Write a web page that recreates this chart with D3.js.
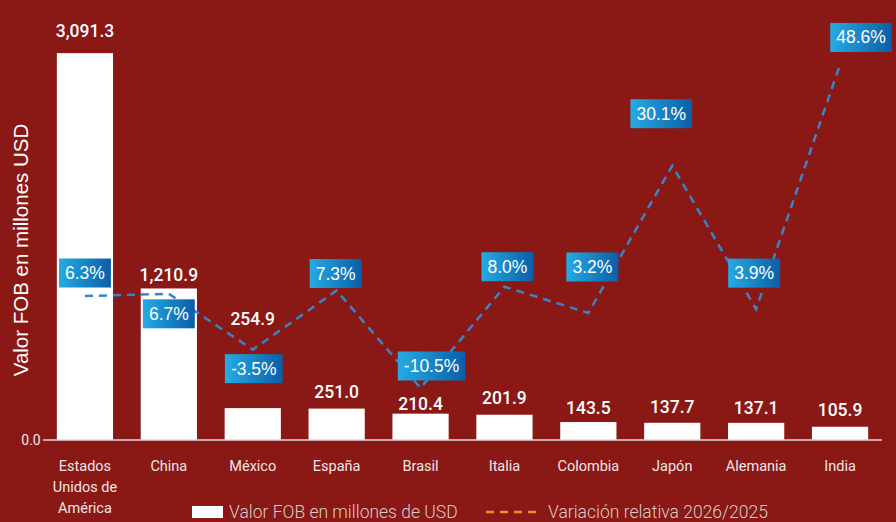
<!DOCTYPE html>
<html>
<head>
<meta charset="utf-8">
<script src="https://cdn.jsdelivr.net/npm/d3@7"></script>
<style>
  body { margin: 0; background: #8a1814; }
  svg { display: block; }
</style>
</head>
<body>
<svg id="chart" width="896" height="522"></svg>
<script>
// datos
var paises = ["Estados Unidos de América", "China", "México", "España", "Brasil",
              "Italia", "Colombia", "Japón", "Alemania", "India"]
var valorFOB = [3091.3, 1210.9, 254.9, 251.0, 210.4, 201.9, 143.5, 137.7, 137.1, 105.9]
var variacion = [6.3, 6.7, -3.5, 7.3, -10.5, 8.0, 3.2, 30.1, 3.9, 48.6]
var etiquetasY = ["0.0"]

// posiciones manuales de las etiquetas (como en el original)
var dyValor = [-22, -13, -89, -17, -10, -17, -14, -16, -15, -17]
var offsetVar = [[0, -23], [0, 20], [1, 19], [-1, -17], [11, -22], [3, -20],
                 [4, -46], [-11, -52], [-2, -36], [21, -27]]

var fmt = d3.formatLocale({decimal: ".", thousands: ",", grouping: [3],
                           currency: ["$", ""], minus: "-"})

var svg = d3.select("#chart")
var W = 896, H = 522
var left = 43, right = 882, base = 440, topY = 2

svg.append("rect").attr("width", W).attr("height", H).attr("fill", "#8a1814")

var defs = svg.append("defs")
var grad = defs.append("linearGradient").attr("id", "azul")
grad.append("stop").attr("offset", "0%").attr("stop-color", "#25abe3")
grad.append("stop").attr("offset", "100%").attr("stop-color", "#0b5ea9")

var x = d3.scaleBand()
          .domain(paises)
          .range([left, right])
          .paddingInner(0.33)
          .paddingOuter(0.165)

var y = d3.scaleLinear().domain([0, 3500]).range([base, topY])
var y2 = d3.scaleLinear().domain([-20, 60]).range([base, topY])

// barras
svg.selectAll("rect.bar")
   .data(valorFOB)
 .enter().append("rect")
   .attr("class", "bar")
   .attr("x", function(d, i) { return x(paises[i]) })
   .attr("y", function(d) { return y(d) })
   .attr("width", x.bandwidth())
   .attr("height", function(d) { return base - y(d) })
   .attr("fill", "#ffffff")

// eje base
svg.append("line")
   .attr("x1", left).attr("x2", right)
   .attr("y1", base).attr("y2", base)
   .attr("stroke", "#d9d9d9").attr("stroke-width", 1.5)

svg.selectAll("text.ytick")
   .data(etiquetasY)
 .enter().append("text")
   .attr("class", "ytick")
   .attr("x", 31)
   .attr("y", y(0) + 5)
   .attr("text-anchor", "middle")
   .attr("font-family", "Roboto")
   .attr("font-size", 14)
   .attr("fill", "#f2e6e6")
   .text(function(d) { return d })

// etiquetas de categoria
var cat = svg.selectAll("text.cat")
   .data(paises)
 .enter().append("text")
   .attr("class", "cat")
   .attr("x", function(d) { return x(d) + x.bandwidth() / 2 })
   .attr("y", 471)
   .attr("text-anchor", "middle")
   .attr("font-family", "Roboto")
   .attr("font-size", 14.5)
   .attr("fill", "#f2e6e6")

cat.each(function(d) {
    var lines = d == "Estados Unidos de América" ? ["Estados", "Unidos de", "América"] : [d]
    var t = d3.select(this)
    lines.forEach(function(l, k) {
        t.append("tspan")
         .attr("x", t.attr("x"))
         .attr("dy", k == 0 ? 0 : 21)
         .text(l)
    })
})

// titulo eje Y
svg.append("text")
   .attr("transform", "translate(28,250) rotate(-90)")
   .attr("text-anchor", "middle")
   .attr("font-family", "Liberation Sans, Arial")
   .attr("font-size", 20.5)
   .attr("fill", "#ffffff")
   .text("Valor FOB en millones USD")

// linea de variacion
var line = d3.line()
    .x(function(d, i) { return x(paises[i]) + x.bandwidth() / 2 })
    .y(function(d) { return y2(d) })

svg.append("path")
   .datum(variacion)
   .attr("d", line)
   .attr("fill", "none")
   .attr("stroke", "#3b83c9")
   .attr("stroke-width", 2.5)
   .attr("stroke-dasharray", "8,6")

// etiquetas de valor
svg.selectAll("text.val")
   .data(valorFOB)
 .enter().append("text")
   .attr("class", "val")
   .attr("x", function(d, i) { return x(paises[i]) + x.bandwidth() / 2 })
   .attr("y", function(d, i) { return y(d) + dyValor[i] + 6 })
   .attr("text-anchor", "middle")
   .attr("font-family", "Roboto")
   .attr("font-weight", 500)
   .attr("font-size", 17.5)
   .attr("fill", "#ffffff")
   .text(function(d) { return fmt.format(",.1f")(d) })

// etiquetas de variacion (cajas azules)
var lab = svg.selectAll("g.var")
   .data(variacion)
 .enter().append("g")
   .attr("class", "var")
   .attr("transform", function(d, i) {
       var cx = x(paises[i]) + x.bandwidth() / 2 + offsetVar[i][0]
       var cy = y2(d) + offsetVar[i][1]
       return "translate(" + cx + "," + cy + ")"
   })

lab.append("rect").attr("fill", "url(#azul)")
lab.append("text")
   .attr("text-anchor", "middle")
   .attr("y", 6)
   .attr("font-family", "Liberation Sans, Arial")
   .attr("font-size", 17.5)
   .attr("fill", "#ffffff")
   .text(function(d) { return fmt.format(".1f")(d) + "%" })

lab.each(function() {
    var g = d3.select(this)
    var w = g.select("text").node().getComputedTextLength() + 12
    g.select("rect")
     .attr("x", -w / 2).attr("y", -14.5)
     .attr("width", w).attr("height", 29)
})

// leyenda
var leg = svg.append("g").attr("font-family", "Roboto").attr("font-weight", 300)
             .attr("font-size", 17.5).attr("fill", "#d9cccc")
leg.append("rect").attr("x", 192).attr("y", 506).attr("width", 31).attr("height", 12).attr("fill", "#ffffff")
leg.append("text").attr("x", 229).attr("y", 518).text("Valor FOB en millones de USD")
leg.append("line").attr("x1", 486).attr("x2", 537).attr("y1", 512).attr("y2", 512)
   .attr("stroke", "#f0901e").attr("stroke-width", 2.5).attr("stroke-dasharray", "8,6")
leg.append("text").attr("x", 548).attr("y", 518).text("Variación relativa 2026/2025")
</script>
</body>
</html>
